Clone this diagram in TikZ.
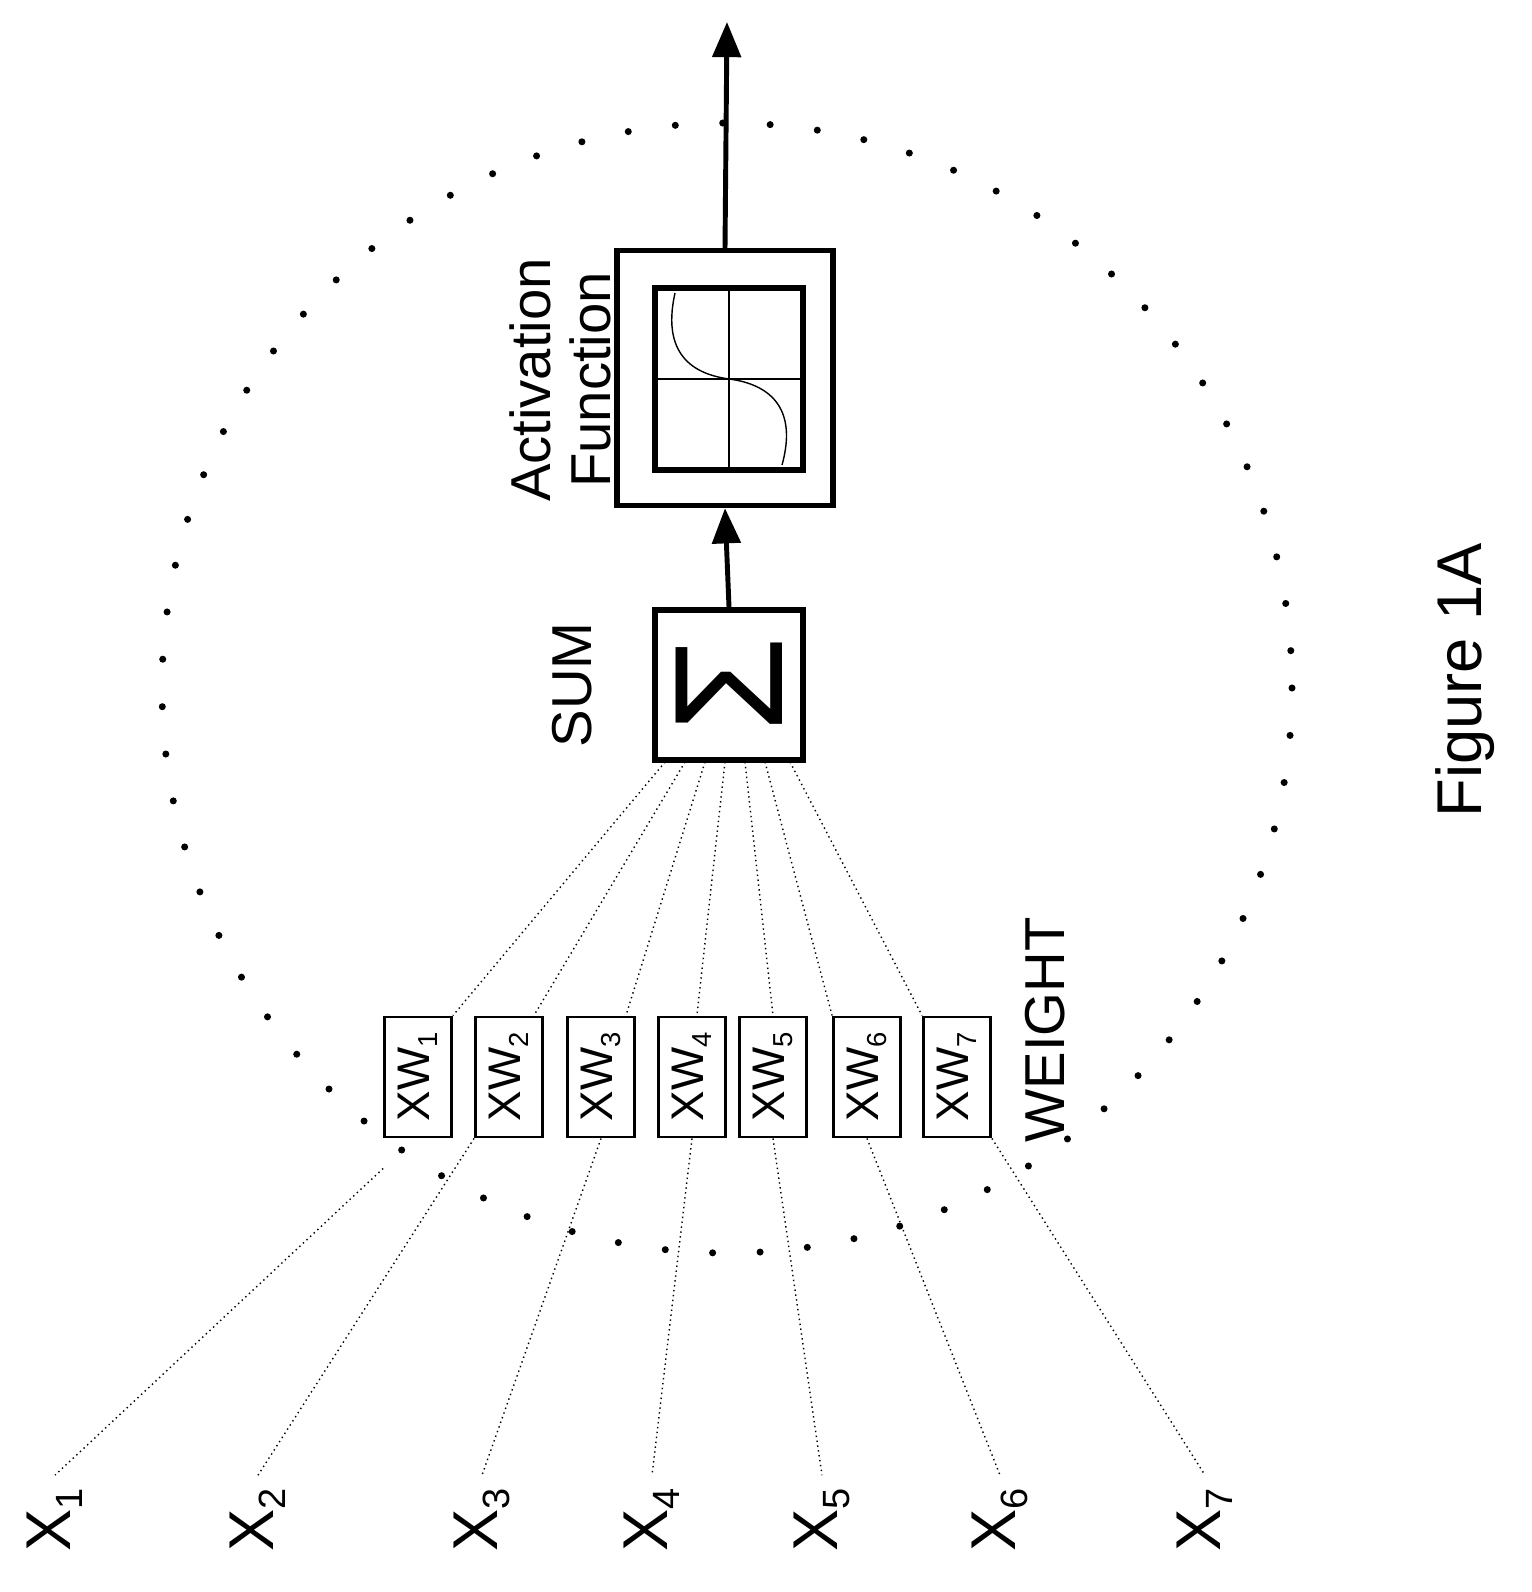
\documentclass[tikz,border=0pt]{standalone}
\usepackage{fontspec}
\setmainfont{Liberation Sans}
\usetikzlibrary{positioning, arrows.meta}

\newcommand{\sub}[1]{\raisebox{-0.35ex}{\scalebox{0.6}{#1}}}

\begin{document}
\begin{tikzpicture}
% Style
[
    x=0.01cm, y=-0.01cm, thick,
    wbox/.style={draw, thick, minimum width=0.67cm, minimum height=1.2cm, inner sep=0pt},
    wlabel/.style={rotate=90, font=\fontsize{13}{15}\selectfont},
    xlabel/.style={rotate=90, font=\fontsize{18}{20}\selectfont},
    conn/.style={densely dotted, thin},
    flow/.style={-{Triangle[length=10pt, width=8pt]}, line width=1.4pt}
]
\useasboundingbox (0,0) rectangle (1531,1592);

%=================================== Start ===================================
{
    \draw[line width=2pt, dash pattern=on 0pt off 13.5pt, line cap=round] (727,688) circle (565);

    % activation box
    \node[draw, line width=1.5pt, minimum width=2.16cm, minimum height=2.55cm] (act) at (725,378) {};
    \node[draw, line width=1.5pt, minimum width=1.48cm, minimum height=1.82cm] (plot) at (729,379) {};
    \draw[thin] (plot.north) -- (plot.south) (plot.west) -- (plot.east);
    \draw[thin] (675,293) .. controls (660,360) and (700,375) .. (729,379)
                          .. controls (760,383) and (800,400) .. (782,465);
    \node[rotate=90, align=center, font=\fontsize{16}{17}\selectfont] (act-l) at (560,380) {Activation\\Function};

    % sum box
    \node[draw, line width=1.5pt, minimum width=1.48cm, minimum height=1.5cm] (sum) at (729,685) {};
    \node[rotate=90, font=\fontsize{44}{44}\selectfont] at (sum.center) {Σ};
    \node[rotate=90, font=\fontsize{16}{17}\selectfont] (sum-l) at (572,685) {SUM};

    \coordinate (out) at (727,22);
    \draw[flow] (sum.north) -- (act.south);
    \draw[flow] (act.north) -- (out);

    % weights and inputs
    \foreach \i/\bx/\lx in {1/418/55, 2/509/258, 3/601/482, 4/692/652, 5/773/822, 6/867/1000, 7/957/1205} {
        \node[wbox] (w-\i) at (\bx,1077) {};
        \node[wlabel] at (w-\i) {XW\sub{\i}};
        \node[xlabel] (x-\i) at (\lx,1520) {X\sub{\i}};
    }
    \foreach \i/\sx in {1/665, 2/685, 3/705, 4/725, 5/745, 6/765, 7/790} {
        \coordinate (s-\i) at (\sx,762);
    }
    \draw[conn] (s-1) -- (w-1.north east);
    \draw[conn] (s-2) -- ([xshift=-0.1cm]w-2.north east);
    \draw[conn] (s-3) -- ([xshift=-0.1cm]w-3.north east);
    \draw[conn] (s-4) -- ([xshift=-0.3cm]w-4.north east);
    \draw[conn] (s-5) -- (w-5.north);
    \draw[conn] (s-6) -- (w-6.north west);
    \draw[conn] (s-7) -- (w-7.north west);
    \draw[conn] ([yshift=-0.3cm]w-1.south west) -- (x-1.east);
    \draw[conn] (w-2.south west) -- (x-2.east);
    \draw[conn] (w-3.south) -- (x-3.east);
    \draw[conn] (w-4.south) -- (x-4.east);
    \draw[conn] (w-5.south) -- (x-5.east);
    \draw[conn] (w-6.south) -- (x-6.east);
    \draw[conn] (w-7.south east) -- (x-7.east);

    \node[rotate=90, font=\fontsize{16}{17}\selectfont] (weight-l) at (1045,1030) {WEIGHT};
    \node[rotate=90, font=\fontsize{18}{20}\selectfont] (fig) at (1465,680) {Figure 1A};
}
%==================================== END ====================================

\end{tikzpicture}
\end{document}
